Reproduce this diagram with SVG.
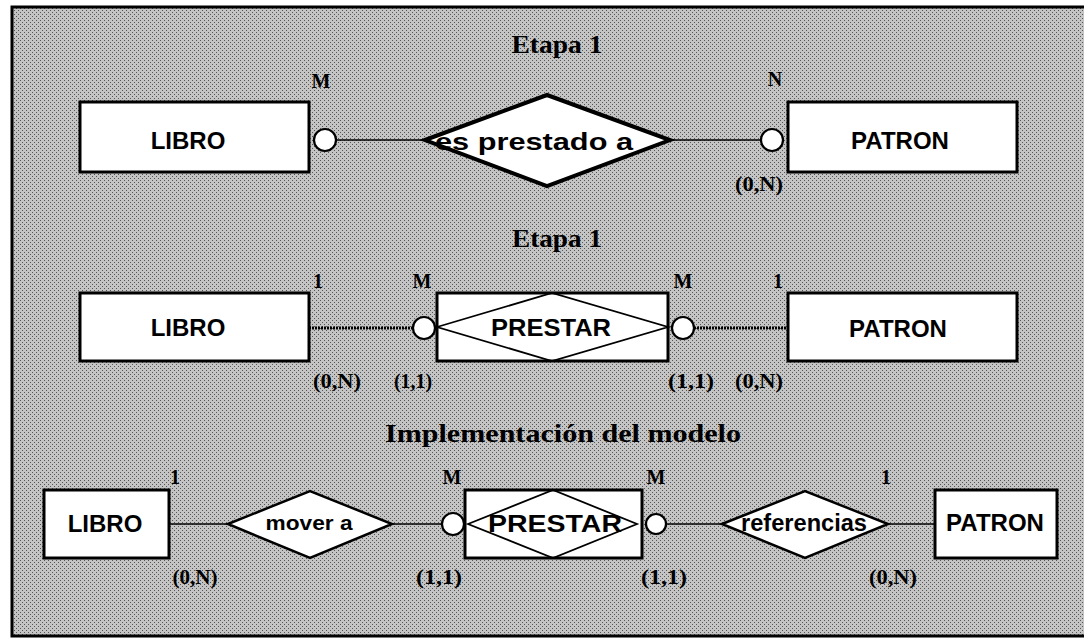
<svg xmlns="http://www.w3.org/2000/svg" width="1084" height="639" viewBox="0 0 1084 639">
<defs>
<pattern id="ht" width="4" height="4" patternUnits="userSpaceOnUse">
<rect width="4" height="4" fill="#c4c4c4"/>
<rect x="0" y="0" width="1" height="1" fill="#555"/>
<rect x="2" y="2" width="1" height="1" fill="#555"/>
</pattern>
</defs>
<style>
.ent{fill:#fff;stroke:#000;stroke-width:3}
.rel{fill:#fff;stroke:#000;stroke-width:2.5}
.relthin{fill:none;stroke:#000;stroke-width:1.8}
.ring{fill:#fff;stroke:#000;stroke-width:2.2}
.ln{stroke:#000;stroke-width:1.6;fill:none}
.hln{stroke:#000;stroke-width:3.2;stroke-dasharray:2 1;fill:none}
.et{font-family:"Liberation Sans",Arial,sans-serif;font-weight:bold;font-size:24px;text-anchor:middle;fill:#000}
.rt{font-family:"Liberation Sans",Arial,sans-serif;font-weight:bold;text-anchor:middle;fill:#000}
.cd{font-family:"Liberation Serif","Times New Roman",serif;font-weight:bold;font-size:20px;text-anchor:middle;fill:#000}
.ti{font-family:"Liberation Serif","Times New Roman",serif;font-weight:bold;font-size:26px;text-anchor:middle;fill:#000}
</style>
<rect x="0" y="0" width="1084" height="639" fill="#fff"/>
<rect x="12" y="7" width="1090" height="629" fill="url(#ht)" stroke="#000" stroke-width="3"/>

<g id="titles">
<text class="ti" x="557" y="53" textLength="91" lengthAdjust="spacingAndGlyphs">Etapa 1</text>
<text class="ti" x="557" y="247" textLength="90" lengthAdjust="spacingAndGlyphs">Etapa 1</text>
<text class="ti" x="563" y="442" textLength="356" lengthAdjust="spacingAndGlyphs">Implementación del modelo</text>
</g>

<g id="connectors">
<line class="ln" x1="336" y1="140" x2="425" y2="140"/>
<line class="ln" x1="670" y1="140" x2="761" y2="140"/>
<line class="hln" x1="309" y1="328" x2="413" y2="328"/>
<line class="hln" x1="694" y1="328" x2="788" y2="328"/>
<line class="ln" x1="169" y1="524" x2="228" y2="524"/>
<line class="ln" x1="392" y1="524" x2="442" y2="524"/>
<line class="ln" x1="666" y1="524" x2="722" y2="524"/>
<line class="ln" x1="888" y1="524" x2="935" y2="524"/>
<circle class="ring" cx="325" cy="140" r="11"/>
<circle class="ring" cx="772" cy="140" r="11"/>
<circle class="ring" cx="424" cy="328" r="11"/>
<circle class="ring" cx="683" cy="328" r="11"/>
<circle class="ring" cx="453" cy="524" r="11"/>
<circle class="ring" cx="656" cy="524" r="10"/>
</g>

<g id="libro1">
<rect class="ent" x="80" y="102" width="229" height="70"/>
<text class="et" x="188" y="149">LIBRO</text>
</g>
<g id="es-prestado-a">
<polygon points="425,140 547,95 670,140 547,186" fill="#fff" stroke="#000" stroke-width="4"/>
<text class="rt" x="534" y="150" font-size="24" textLength="198" lengthAdjust="spacingAndGlyphs">es prestado a</text>
</g>
<g id="patron1">
<rect class="ent" x="788" y="102" width="229" height="70"/>
<text class="et" x="900" y="149">PATRON</text>
</g>

<g id="libro2">
<rect class="ent" x="80" y="293" width="229" height="68"/>
<text class="et" x="188" y="336">LIBRO</text>
</g>
<g id="prestar2">
<rect class="ent" x="437" y="293" width="231" height="68"/>
<polygon class="relthin" points="437,327 552,293 668,327 552,361"/>
<text class="et" x="551" y="336" textLength="120" lengthAdjust="spacingAndGlyphs">PRESTAR</text>
</g>
<g id="patron2">
<rect class="ent" x="788" y="293" width="229" height="68"/>
<text class="et" x="898" y="337">PATRON</text>
</g>

<g id="libro3">
<rect class="ent" x="44" y="490" width="125" height="68"/>
<text class="et" x="105" y="532">LIBRO</text>
</g>
<g id="mover-a">
<polygon class="rel" points="228,524 310,491 392,524 310,558"/>
<text class="rt" x="309" y="530" font-size="20" textLength="87" lengthAdjust="spacingAndGlyphs">mover a</text>
</g>
<g id="prestar3">
<rect class="ent" x="465" y="490" width="177" height="68"/>
<polygon class="relthin" points="468,524 553,490 637,524 553,558"/>
<text class="et" x="555" y="532" textLength="134" lengthAdjust="spacingAndGlyphs">PRESTAR</text>
</g>
<g id="referencias">
<polygon class="rel" points="722,524 805,491 888,524 805,558"/>
<text class="rt" x="804" y="531" font-size="23" textLength="126" lengthAdjust="spacingAndGlyphs">referencias</text>
</g>
<g id="patron3">
<rect class="ent" x="935" y="490" width="122" height="68"/>
<text class="et" x="995" y="531">PATRON</text>
</g>

<g id="cardinalities">
<text class="cd" x="321" y="88">M</text>
<text class="cd" x="775" y="86">N</text>
<text class="cd" x="759" y="191" textLength="48" lengthAdjust="spacingAndGlyphs">(0,N)</text>
<text class="cd" x="318" y="288">1</text>
<text class="cd" x="422" y="288">M</text>
<text class="cd" x="683" y="288">M</text>
<text class="cd" x="778" y="288">1</text>
<text class="cd" x="337" y="388" textLength="48" lengthAdjust="spacingAndGlyphs">(0,N)</text>
<text class="cd" x="413" y="388" textLength="38" lengthAdjust="spacingAndGlyphs">(1,1)</text>
<text class="cd" x="691" y="388" textLength="46" lengthAdjust="spacingAndGlyphs">(1,1)</text>
<text class="cd" x="759" y="388" textLength="48" lengthAdjust="spacingAndGlyphs">(0,N)</text>
<text class="cd" x="175" y="484">1</text>
<text class="cd" x="452" y="484">M</text>
<text class="cd" x="656" y="484">M</text>
<text class="cd" x="886" y="484">1</text>
<text class="cd" x="195" y="584" textLength="45" lengthAdjust="spacingAndGlyphs">(0,N)</text>
<text class="cd" x="439" y="584" textLength="46" lengthAdjust="spacingAndGlyphs">(1,1)</text>
<text class="cd" x="664" y="584" textLength="46" lengthAdjust="spacingAndGlyphs">(1,1)</text>
<text class="cd" x="893" y="584" textLength="48" lengthAdjust="spacingAndGlyphs">(0,N)</text>
</g>
</svg>
